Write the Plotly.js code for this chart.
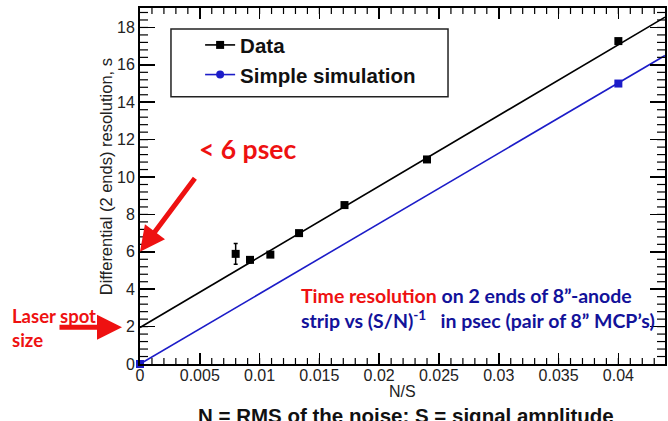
<!DOCTYPE html>
<html>
<head>
<meta charset="utf-8">
<script src="https://cdn.plot.ly/plotly-3.0.1.min.js"></script>
<style>html,body{margin:0;padding:0;background:#fff;}#chart{width:668px;height:421px;}</style>
</head>
<body>
<div id="chart"></div>
<script>
// Measured data (N/S vs differential resolution, psec)
const dataX = [0.0080, 0.0092, 0.0109, 0.0133, 0.0171, 0.0240, 0.0400];
const dataY = [5.89, 5.57, 5.85, 7.00, 8.50, 10.94, 17.27];
const dataErr = [0.56, 0.15, 0.10, 0.10, 0.10, 0.10, 0.12];
// Linear fit line through data (endpoints)
const fitDataX = [0, 0.0439];
const fitDataY = [1.95, 18.55];
// Simple simulation points and line
const simX = [0, 0.04];
const simY = [0, 15.0];
const fitSimX = [0, 0.0439];
const fitSimY = [0, 16.5];
const legendNames = ["Data", "Simple simulation"];
const xRange = [0, 0.0439];
const yRange = [0, 19.04];
const xMinorStep = 0.001;
const yMinorStep = 0.4;

const BLUE = "#1c1cc8";
const RED = "#ee1111";
const NAVY = "#12129a";
const ARIAL = "Liberation Sans, Arial, sans-serif";

const traces = [
  {x: fitDataX, y: fitDataY, mode: "lines", line: {color: "black", width: 1.6}, showlegend: false, hoverinfo: "skip"},
  {x: fitSimX, y: fitSimY, mode: "lines", line: {color: BLUE, width: 1.6}, showlegend: false, hoverinfo: "skip"},
  {x: dataX, y: dataY, mode: "markers", marker: {symbol: "square", size: 8, color: "black"},
   error_y: {type: "data", array: dataErr, visible: true, color: "black", thickness: 1.5, width: 2},
   showlegend: false},
  {x: simX, y: simY, mode: "markers", marker: {symbol: "square", size: 8, color: BLUE},
   showlegend: false, cliponaxis: false},
  {x: [null], y: [null], mode: "lines+markers", name: legendNames[0],
   line: {color: "black", width: 1.6}, marker: {symbol: "square", size: 8, color: "black"}},
  {x: [null], y: [null], mode: "lines+markers", name: legendNames[1],
   line: {color: BLUE, width: 1.6}, marker: {symbol: "circle", size: 8, color: BLUE}}
];

// Minor tick marks (inside, on all four sides), placed through the axis scales
const minorShapes = [];
const tickLine = {color: "black", width: 1.2};
for (let i = 1; i * xMinorStep < xRange[1]; i++) {
  const v = i * xMinorStep;
  minorShapes.push({type: "line", xref: "x", yref: "paper", ysizemode: "pixel", yanchor: 0,
    x0: v, x1: v, y0: 0, y1: 6, line: tickLine, layer: "above"});
  minorShapes.push({type: "line", xref: "x", yref: "paper", ysizemode: "pixel", yanchor: 1,
    x0: v, x1: v, y0: 0, y1: -6, line: tickLine, layer: "above"});
}
for (let i = 1; i * yMinorStep < yRange[1]; i++) {
  const v = i * yMinorStep;
  minorShapes.push({type: "line", xref: "paper", yref: "y", xsizemode: "pixel", xanchor: 0,
    y0: v, y1: v, x0: 0, x1: 8, line: tickLine, layer: "above"});
  minorShapes.push({type: "line", xref: "paper", yref: "y", xsizemode: "pixel", xanchor: 1,
    y0: v, y1: v, x0: 0, x1: -8, line: tickLine, layer: "above"});
}

const tickFont = {family: ARIAL, size: 16, color: "#222"};

const layout = {
  width: 668, height: 421,
  margin: {l: 140, r: 3, t: 8, b: 57},
  showlegend: true,
  legend: {x: 0.1145, y: 0.952, xanchor: "left", yanchor: "top",
    bgcolor: "rgba(0,0,0,0)", borderwidth: 0,
    font: {family: ARIAL, size: 20.5, color: "#111", weight: "bold"}},
  xaxis: {
    range: xRange, dtick: 0.005, tick0: 0,
    showgrid: false, zeroline: false,
    showline: true, linecolor: "black", linewidth: 2, mirror: "allticks",
    ticks: "inside", ticklen: 11, tickwidth: 1.5, tickcolor: "black",
    tickfont: tickFont, ticklabelstandoff: -4
  },
  yaxis: {
    range: yRange, dtick: 2, tick0: 0,
    showgrid: false, zeroline: false,
    showline: true, linecolor: "black", linewidth: 2, mirror: "allticks",
    ticks: "inside", ticklen: 15, tickwidth: 1.5, tickcolor: "black",
    tickfont: tickFont
  },
  shapes: [
    {type: "rect", xref: "paper", yref: "paper", x0: 0.059, x1: 0.5867, y0: 0.7504, y1: 0.9411,
     line: {color: "#222", width: 1.5}}
  ].concat(minorShapes),
  annotations: [
    {xref: "paper", yref: "paper", x: -0.0657, y: 0.526, xanchor: "center", yanchor: "middle",
     textangle: -90, text: "Differential (2 ends) resolution, s", showarrow: false,
     font: {family: ARIAL, size: 16.5, color: "#222"}},
    {xref: "paper", yref: "paper", x: 0.5, y: -0.0771, xanchor: "center", yanchor: "middle",
     text: "N/S", showarrow: false, font: {family: ARIAL, size: 16, color: "#222"}},
    {xref: "paper", yref: "y", x: 0.204, y: 11.5, xanchor: "center", yanchor: "middle",
     text: "<b>&lt; 6 psec</b>", showarrow: false,
     font: {family: "Lato, Open Sans, sans-serif", size: 26.5, color: RED}},
    {xref: "x", yref: "y", x: 0, y: 6.0, ax: 56, ay: -75, text: "", showarrow: true,
     arrowhead: 2, arrowsize: 1, arrowwidth: 5, arrowcolor: RED, standoff: 0},
    {xref: "paper", yref: "y", x: -0.2476, y: 1.95, xanchor: "left", yanchor: "middle", align: "left",
     text: "<b>Laser spot<br>size</b>", showarrow: false,
     font: {family: "Lato, Open Sans, sans-serif", size: 18.5, color: RED}},
    {xref: "paper", yref: "y", x: -0.0343, y: 1.96, ax: -64, ay: 0, text: "", showarrow: true,
     arrowhead: 2, arrowsize: 1, arrowwidth: 5, arrowcolor: RED, standoff: 0},
    {xref: "paper", yref: "y", x: 0.303, y: 3.0, xanchor: "left", yanchor: "middle", align: "left",
     text: "<b><span style='color:" + RED + "'>Time resolution</span> on 2 ends of 8\u201d-anode<br>strip vs (S/N)<sup>-1</sup>&nbsp;&nbsp; in psec (pair of 8\u201d MCP\u2019s)</b>",
     showarrow: false, font: {family: "Lato, Open Sans, sans-serif", size: 19.5, color: NAVY}},
    {xref: "paper", yref: "paper", x: 0.507, y: -0.146, xanchor: "center", yanchor: "middle",
     text: "<b>N = RMS of the noise; S = signal amplitude</b>", showarrow: false,
     font: {family: ARIAL, size: 20.5, color: "#111"}}
  ]
};

Plotly.newPlot("chart", traces, layout, {staticPlot: true, displayModeBar: false});
</script>
</body>
</html>
